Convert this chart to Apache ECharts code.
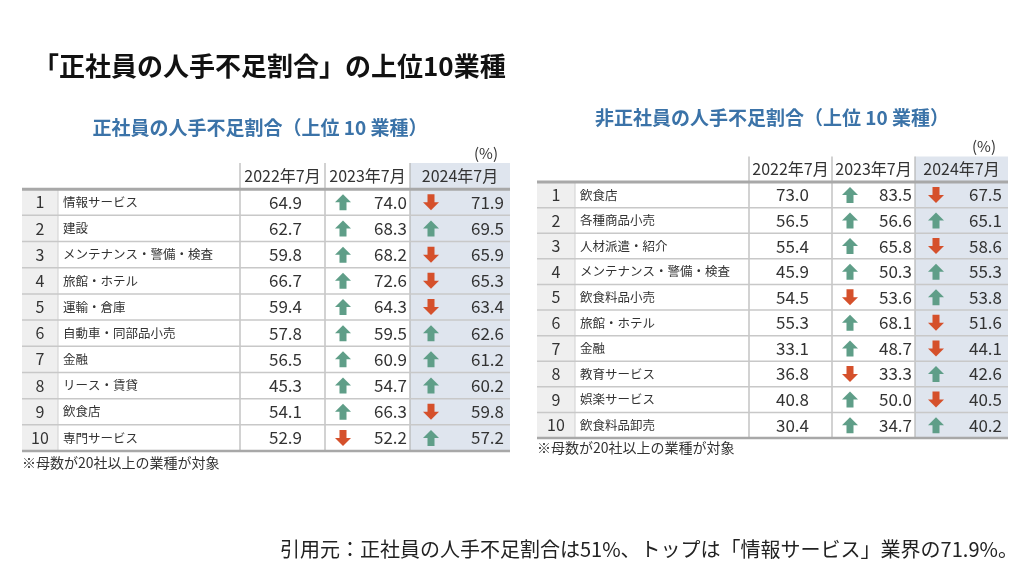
<!DOCTYPE html>
<html><head><meta charset="utf-8">
<script src="https://cdn.jsdelivr.net/npm/echarts@6/dist/echarts.min.js"></script>
<style>html,body{margin:0;padding:0;background:#fff}#chart{width:1024px;height:576px}</style>
</head><body><div id="chart"></div>
<script>
// ---- data ----
const ranks = ['1','2','3','4','5','6','7','8','9','10'];
const columnLabels = ['2022年7月','2023年7月','2024年7月'];
const seishainIndustries = ['情報サービス','建設','メンテナンス・警備・検査','旅館・ホテル','運輸・倉庫','自動車・同部品小売','金融','リース・賃貸','飲食店','専門サービス'];
const seishain2022 = [64.9,62.7,59.8,66.7,59.4,57.8,56.5,45.3,54.1,52.9];
const seishain2023 = [74.0,68.3,68.2,72.6,64.3,59.5,60.9,54.7,66.3,52.2];
const seishain2024 = [71.9,69.5,65.9,65.3,63.4,62.6,61.2,60.2,59.8,57.2];
const hiseishainIndustries = ['飲食店','各種商品小売','人材派遣・紹介','メンテナンス・警備・検査','飲食料品小売','旅館・ホテル','金融','教育サービス','娯楽サービス','飲食料品卸売'];
const hiseishain2022 = [73.0,56.5,55.4,45.9,54.5,55.3,33.1,36.8,40.8,30.4];
const hiseishain2023 = [83.5,56.6,65.8,50.3,53.6,68.1,48.7,33.3,50.0,34.7];
const hiseishain2024 = [67.5,65.1,58.6,55.3,53.8,51.6,44.1,42.6,40.5,40.2];

const mainTitle = '「正社員の人手不足割合」の上位10業種';
const leftTitle = '正社員の人手不足割合（上位 10 業種）';
const rightTitle = '非正社員の人手不足割合（上位 10 業種）';
const footnote = '※母数が20社以上の業種が対象';
const unitLabel = '(%)';
const sourceText = '引用元：正社員の人手不足割合は51%、トップは「情報サービス」業界の71.9%。';

// ---- layout / style ----
const FONT = '"Noto Sans CJK JP", "Noto Sans", sans-serif';
const GREEN = '#5f9e88', RED = '#d5502b';
const TXT = '#333';
const leftCols = [0, 36, 218, 303, 388, 488];
const rightCols = [0, 38, 212, 295, 378, 471];
const rowCats = [''].concat(ranks);

function arrow(cx, cy, up, color) {
  const s = up ? 1 : -1;
  const pts = [[0,-8],[8,0],[3.5,0],[3.5,8],[-3.5,8],[-3.5,0],[-8,0]].map(p => [cx + p[0], cy + s * p[1]]);
  return { type: 'polygon', shape: { points: pts }, style: { fill: color } };
}
function txt(x, y, text, size, align, color, weight) {
  return { type: 'text', x: x, y: y, style: { text: text, fontSize: size, fontFamily: FONT, fill: color || TXT, align: align, verticalAlign: 'middle', fontWeight: weight || 'normal' } };
}
function line(x1, y1, x2, y2, color, w) {
  return { type: 'line', shape: { x1: x1, y1: y1, x2: x2, y2: y2 }, style: { stroke: color, lineWidth: w } };
}

function headerSeries(gi, cols) {
  return {
    type: 'custom', coordinateSystem: 'cartesian2d', xAxisIndex: gi, yAxisIndex: gi,
    data: [[0]], encode: { y: 0 }, silent: true,
    renderItem: function (params, api) {
      const c = api.coord([0, 0]);
      const h = api.size([0, 1])[1];
      const X = k => api.coord([cols[k], 0])[0];
      const y0 = c[1] - h / 2;
      const kids = [];
      kids.push({ type: 'rect', shape: { x: X(4), y: y0, width: X(5) - X(4), height: h }, style: { fill: '#dfe5ee' } });
      [2, 3, 4].forEach(k => kids.push(line(X(k), y0, X(k), y0 + h, '#b4b4b4', 1.2)));
      kids.push(txt((X(2) + X(3)) / 2, c[1], columnLabels[0], 16, 'center'));
      kids.push(txt((X(3) + X(4)) / 2, c[1], columnLabels[1], 16, 'center'));
      kids.push(txt((X(4) + X(5)) / 2, c[1], columnLabels[2], 16, 'center'));
      kids.push(txt(X(5) - 12, y0 - 10, unitLabel, 15, 'right'));
      return { type: 'group', children: kids };
    }
  };
}

function rowSeries(gi, cols, names, a, b, c3) {
  const data = names.map((n, i) => [i + 1, a[i], b[i], c3[i]]);
  return {
    type: 'custom', coordinateSystem: 'cartesian2d', xAxisIndex: gi, yAxisIndex: gi,
    data: data, encode: { y: 0 }, silent: true,
    renderItem: function (params, api) {
      const r = api.value(0), i = params.dataIndex;
      const v1 = api.value(1), v2 = api.value(2), v3 = api.value(3);
      const c = api.coord([0, r]);
      const h = api.size([0, 1])[1];
      const X = k => api.coord([cols[k], r])[0];
      const y0 = c[1] - h / 2, yc = c[1];
      const kids = [];
      kids.push({ type: 'rect', shape: { x: X(0), y: y0, width: X(1) - X(0), height: h }, style: { fill: '#efefef' } });
      kids.push({ type: 'rect', shape: { x: X(4), y: y0, width: X(5) - X(4), height: h }, style: { fill: '#dfe5ee' } });
      kids.push(line(X(1), y0, X(1), y0 + h, '#d0d0d0', 1));
      [2, 3, 4].forEach(k => kids.push(line(X(k), y0, X(k), y0 + h, '#b4b4b4', 1.2)));
      if (i === 0) kids.push(line(X(0), y0, X(5), y0, '#a8a8a8', 3));
      else kids.push(line(X(0), y0, X(5), y0, '#c8c8c8', 1.5));
      if (i === names.length - 1) kids.push(line(X(0), y0 + h, X(5), y0 + h, '#a8a8a8', 2.5));
      kids.push(txt((X(0) + X(1)) / 2, yc, ranks[i], 16, 'center'));
      kids.push(txt(X(1) + 5, yc, names[i], 12.5, 'left'));
      kids.push(txt(X(3) - 23, yc, v1.toFixed(1), 17, 'right'));
      kids.push(arrow(X(3) + 18, yc, v2 >= v1, v2 >= v1 ? GREEN : RED));
      kids.push(txt(X(4) - 3, yc, v2.toFixed(1), 17, 'right'));
      kids.push(arrow(X(4) + 21, yc, v3 >= v2, v3 >= v2 ? GREEN : RED));
      kids.push(txt(X(5) - 6, yc, v3.toFixed(1), 17, 'right'));
      return { type: 'group', children: kids };
    }
  };
}

const chart = echarts.init(document.getElementById('chart'), null, { renderer: 'canvas' });
chart.setOption({
  backgroundColor: '#ffffff',
  animation: false,
  title: [
    { text: mainTitle, left: 33, top: 53, padding: 0, textStyle: { fontSize: 26, fontWeight: 'bold', color: '#111', fontFamily: FONT } },
    { text: leftTitle, left: 260, textAlign: 'center', top: 118, padding: 0, textStyle: { fontSize: 19, fontWeight: 'bold', color: '#3b73a8', fontFamily: FONT } },
    { text: rightTitle, left: 772, textAlign: 'center', top: 108, padding: 0, textStyle: { fontSize: 19, fontWeight: 'bold', color: '#3b73a8', fontFamily: FONT } },
    { text: footnote, left: 22, top: 456, padding: 0, textStyle: { fontSize: 14, fontWeight: 'normal', color: TXT, fontFamily: FONT } },
    { text: footnote, left: 537, top: 441, padding: 0, textStyle: { fontSize: 14, fontWeight: 'normal', color: TXT, fontFamily: FONT } },
    { text: sourceText, left: 280, top: 539, padding: 0, textStyle: { fontSize: 20, fontWeight: 'normal', color: '#222', fontFamily: FONT } }
  ],
  grid: [
    { left: 22, top: 163, width: 488, height: 288 },
    { left: 537, top: 156.5, width: 471, height: 281.5 }
  ],
  xAxis: [
    { type: 'value', gridIndex: 0, min: 0, max: leftCols[5], show: false },
    { type: 'value', gridIndex: 1, min: 0, max: rightCols[5], show: false }
  ],
  yAxis: [
    { type: 'category', gridIndex: 0, data: rowCats, inverse: true, show: false },
    { type: 'category', gridIndex: 1, data: rowCats, inverse: true, show: false }
  ],
  series: [
    headerSeries(0, leftCols),
    rowSeries(0, leftCols, seishainIndustries, seishain2022, seishain2023, seishain2024),
    headerSeries(1, rightCols),
    rowSeries(1, rightCols, hiseishainIndustries, hiseishain2022, hiseishain2023, hiseishain2024)
  ]
});
</script></body></html>
